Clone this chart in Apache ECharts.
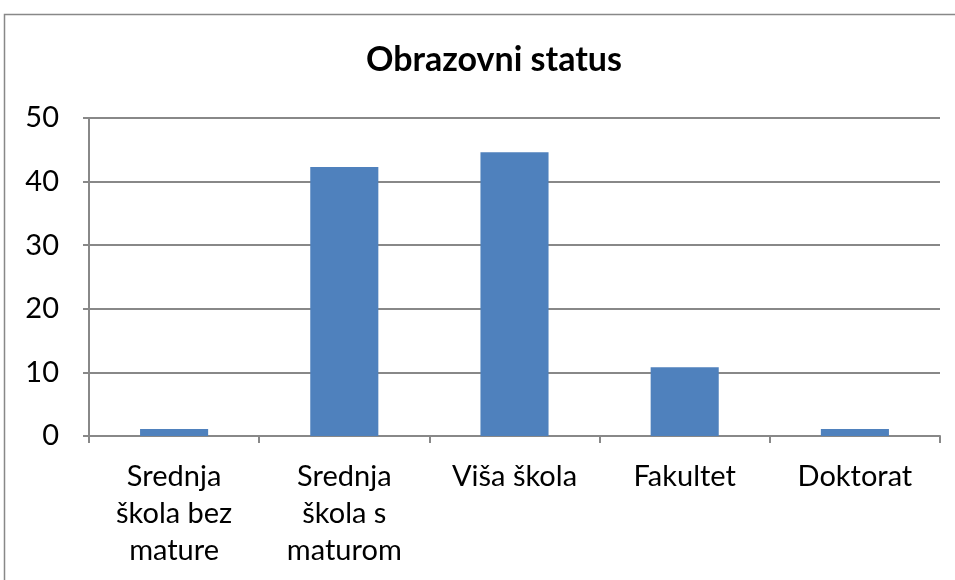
<!DOCTYPE html>
<html>
<head>
<meta charset="utf-8">
<script src="https://cdn.jsdelivr.net/npm/echarts@6/dist/echarts.min.js"></script>
<style>
  html, body { margin: 0; padding: 0; background: #fff; }
  #chart { width: 955px; height: 580px; }
</style>
</head>
<body>
<div id="chart"></div>
<script>
// kategorije i vrijednosti
const categories = [
  "Srednja\nškola bez\nmature",
  "Srednja\nškola s\nmaturom",
  "Viša škola",
  "Fakultet",
  "Doktorat"
];
const values = [1.1, 42.3, 44.6, 10.8, 1.1];
const yTicks = { min: 0, max: 50, interval: 10 };

const chart = echarts.init(document.getElementById("chart"));
const font = "Lato, 'Open Sans', sans-serif";

chart.setOption({
  animation: false,
  textStyle: { fontFamily: font },
  title: {
    text: "Obrazovni status",
    left: 489,
    top: 38,
    textAlign: "center",
    textStyle: { fontSize: 34, fontWeight: "bold", color: "#000", fontFamily: font }
  },
  graphic: [
    {
      type: "rect",
      shape: { x: 4.5, y: 14.5, width: 960, height: 600 },
      style: { fill: "none", stroke: "#888", lineWidth: 1.5 },
      z: -1
    }
  ],
  grid: { left: 89, right: 15, top: 118, bottom: 144 },
  xAxis: {
    type: "category",
    data: categories,
    boundaryGap: true,
    axisLine: { lineStyle: { color: "#888", width: 2 } },
    axisTick: { show: true, length: 7, lineStyle: { color: "#888", width: 2 } },
    axisLabel: {
      interval: 0,
      color: "#000",
      fontSize: 29,
      lineHeight: 37,
      margin: 22,
      fontFamily: font
    }
  },
  yAxis: {
    type: "value",
    min: yTicks.min,
    max: yTicks.max,
    interval: yTicks.interval,
    axisLine: { show: true, lineStyle: { color: "#888", width: 2 } },
    axisTick: { show: true, length: 6, lineStyle: { color: "#888", width: 2 } },
    splitLine: { lineStyle: { color: "#888", width: 2 } },
    axisLabel: { color: "#000", fontSize: 29, margin: 30, fontFamily: font }
  },
  series: [
    {
      type: "bar",
      data: values,
      barWidth: "40%",
      itemStyle: { color: "#4F81BD" }
    }
  ]
});
</script>
</body>
</html>
